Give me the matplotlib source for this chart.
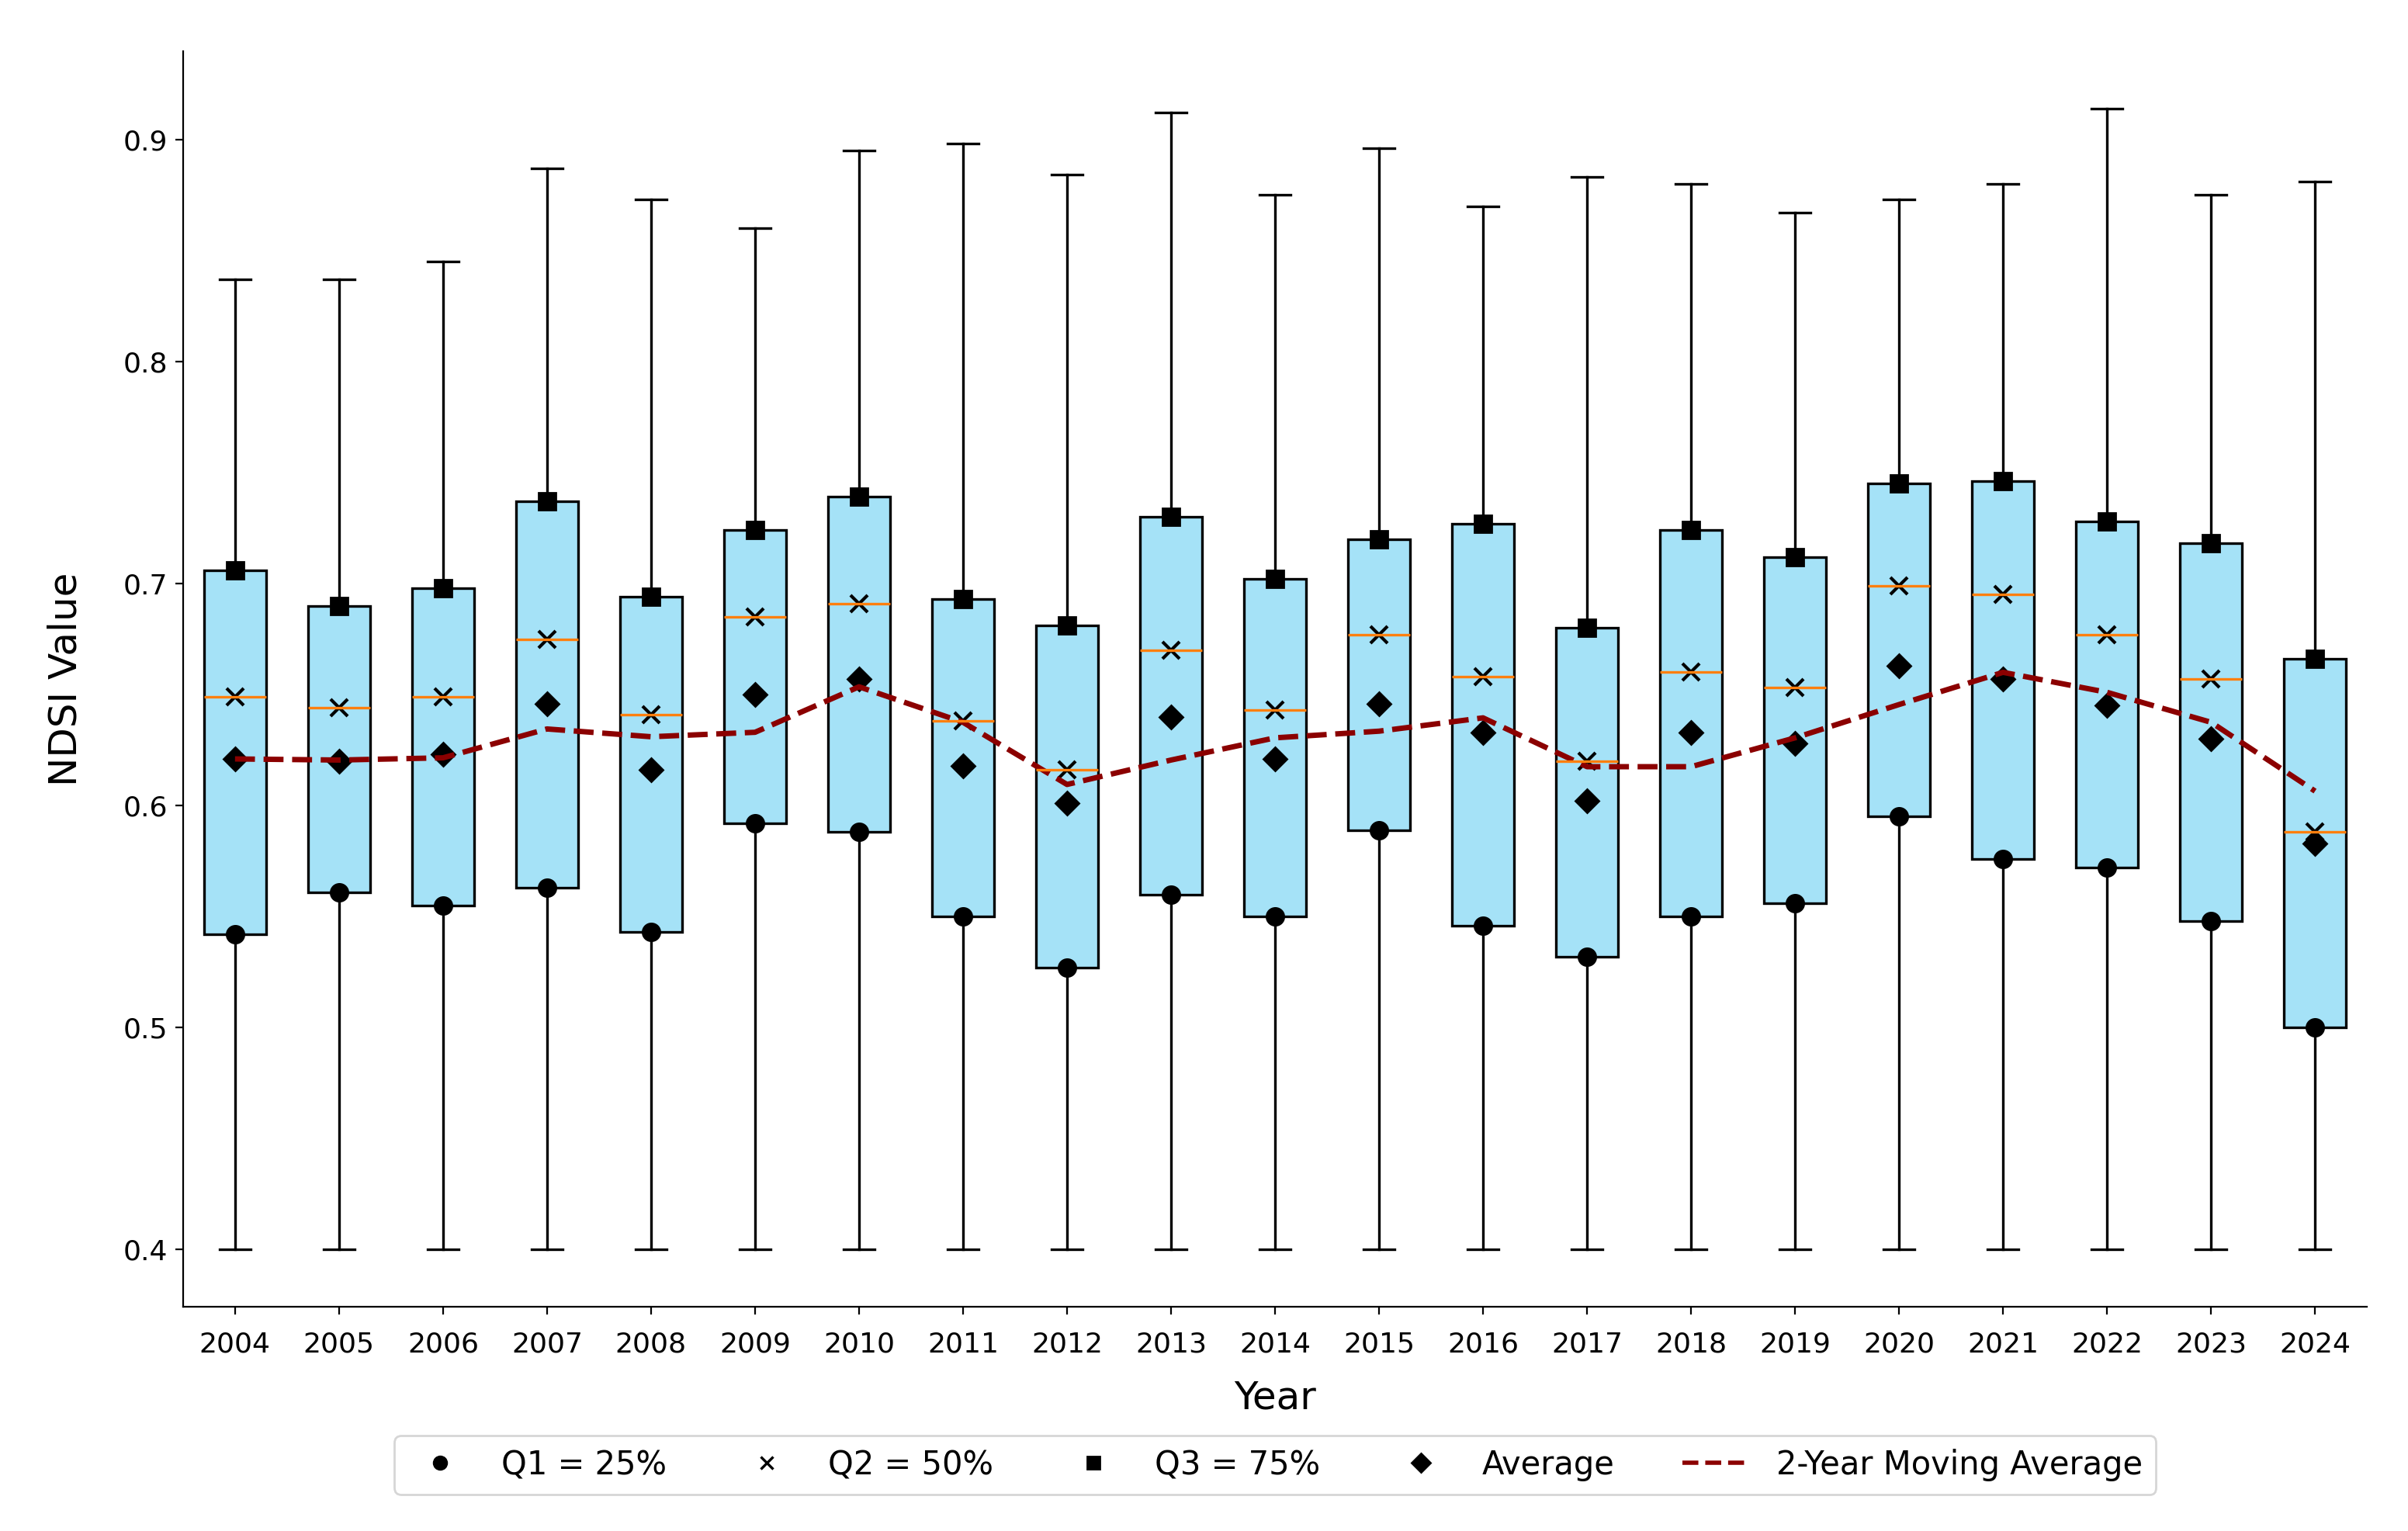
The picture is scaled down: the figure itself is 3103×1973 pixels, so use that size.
import matplotlib
matplotlib.use("Agg")
import matplotlib.pyplot as plt
from matplotlib.lines import Line2D
import pandas as pd

# Values
years = list(range(2004, 2025))
whisker_low = [0.40] * 21
whisker_high = [0.837, 0.837, 0.845, 0.887, 0.873, 0.860, 0.895, 0.898, 0.884, 0.912, 0.875,
                0.896, 0.870, 0.883, 0.880, 0.867, 0.873, 0.880, 0.914, 0.875, 0.881]
q1 = [0.542, 0.561, 0.555, 0.563, 0.543, 0.592, 0.588, 0.550, 0.527, 0.560, 0.550,
      0.589, 0.546, 0.532, 0.550, 0.556, 0.595, 0.576, 0.572, 0.548, 0.500]
q2 = [0.649, 0.644, 0.649, 0.675, 0.641, 0.685, 0.691, 0.638, 0.616, 0.670, 0.643,
      0.677, 0.658, 0.620, 0.660, 0.653, 0.699, 0.695, 0.677, 0.657, 0.588]
q3 = [0.706, 0.690, 0.698, 0.737, 0.694, 0.724, 0.739, 0.693, 0.681, 0.730, 0.702,
      0.720, 0.727, 0.680, 0.724, 0.712, 0.745, 0.746, 0.728, 0.718, 0.666]
means = [0.621, 0.620, 0.623, 0.646, 0.616, 0.650, 0.657, 0.618, 0.601, 0.640, 0.621,
         0.646, 0.633, 0.602, 0.633, 0.628, 0.663, 0.657, 0.645, 0.630, 0.583]

moving_avg = pd.Series(means).rolling(window=2, min_periods=1).mean()

fig = plt.figure(figsize=(15.515, 9.865), dpi=200)
ax = fig.add_axes([0.076, 0.1465, 0.907, 0.820])

stats = []
for i, yr in enumerate(years):
    stats.append({
        'label': str(yr),
        'whislo': whisker_low[i],
        'q1': q1[i],
        'med': q2[i],
        'q3': q3[i],
        'whishi': whisker_high[i],
        'mean': means[i],
        'fliers': [],
    })

positions = list(range(1, len(years) + 1))
ax.bxp(stats, positions=positions, widths=0.6, patch_artist=True, showfliers=False,
       boxprops=dict(facecolor='#a5e2f7', edgecolor='black', linewidth=1.2),
       medianprops=dict(color='#ff7f0e', linewidth=1.2),
       whiskerprops=dict(color='black', linewidth=1.2),
       capprops=dict(color='black', linewidth=1.2))

# quartile / mean markers
ax.plot(positions, q1, 'o', color='black', markersize=8, linestyle='none')
ax.plot(positions, q2, 'x', color='black', markersize=8, markeredgewidth=1.5, linestyle='none')
ax.plot(positions, q3, 's', color='black', markersize=8, linestyle='none')
ax.plot(positions, means, 'D', color='black', markersize=7.5, linestyle='none')
ax.plot(positions, moving_avg, linestyle='--', color='#8b0000', linewidth=2.5)

ax.set_xticks(positions)
ax.set_xticklabels([str(y) for y in years], fontsize=13)
ax.tick_params(axis='y', labelsize=13)
ax.tick_params(axis='x', pad=8)
ax.set_yticks([0.4, 0.5, 0.6, 0.7, 0.8, 0.9])
ax.set_xlabel('Year', fontsize=18, labelpad=10)
ax.set_ylabel('NDSI Value', fontsize=18, labelpad=18)
ax.spines['top'].set_visible(False)
ax.spines['right'].set_visible(False)
ax.set_xlim(0.5, len(years) + 0.5)

handles = [
    Line2D([], [], marker='o', color='black', linestyle='none', markersize=6),
    Line2D([], [], marker='x', color='black', linestyle='none', markersize=6, markeredgewidth=1.2),
    Line2D([], [], marker='s', color='black', linestyle='none', markersize=5.5),
    Line2D([], [], marker='D', color='black', linestyle='none', markersize=6),
    Line2D([], [], color='#8b0000', linestyle='--', linewidth=2),
]
labels = ['Q1 = 25%', 'Q2 = 50%', 'Q3 = 75%', 'Average', '2-Year Moving Average']
ax.legend(handles, labels, loc='upper center', bbox_to_anchor=(0.5, -0.09), ncol=5,
          fontsize=15, columnspacing=2.1, handlelength=2.0, handletextpad=0.9,
          frameon=True)

fig.savefig('out.png', dpi=200)
